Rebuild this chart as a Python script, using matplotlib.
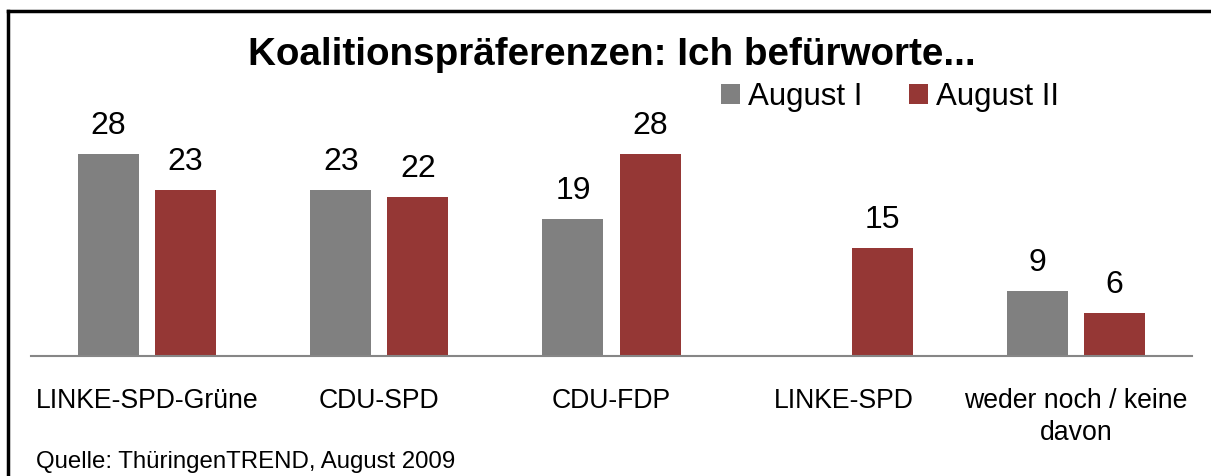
import matplotlib.pyplot as plt
import numpy as np
from matplotlib.lines import Line2D

plt.rcParams['font.family'] = ['Liberation Sans', 'DejaVu Sans']

# data
categories = ['LINKE-SPD-Grüne', 'CDU-SPD', 'CDU-FDP', 'LINKE-SPD', 'weder noch / keine\ndavon']
august_1 = [28, 23, 19, 0, 9]
august_2 = [23, 22, 28, 15, 6]
labels_1 = ['28', '23', '19', '', '9']
labels_2 = ['23', '22', '28', '15', '6']
series = ['August I', 'August II']
colors = ['#808080', '#953735']

W, H = 1211, 476
fig = plt.figure(figsize=(W / 100, H / 100), dpi=100)

# frame round the chart (cut off at right and bottom)
top = 1 - 11 / H
fig.lines.append(Line2D([8 / W, 1.05], [top, top], transform=fig.transFigure,
                        color='black', linewidth=2.5))
fig.lines.append(Line2D([8 / W, 8 / W], [-0.05, top], transform=fig.transFigure,
                        color='black', linewidth=2.5))

ax = fig.add_axes([31 / W, 120 / H, 1161 / W, 256 / H])
x = np.arange(len(categories))
bw = 0.263
off = 0.166
b1 = ax.bar(x - off, august_1, bw, color=colors[0], label=series[0])
b2 = ax.bar(x + off, august_2, bw, color=colors[1], label=series[1])

for bars, labs in ((b1, labels_1), (b2, labels_2)):
    for bar, lab in zip(bars, labs):
        if lab:
            ax.text(bar.get_x() + bar.get_width() / 2, bar.get_height() + 1.8, lab,
                    ha='center', va='bottom', fontsize=23)

ax.set_xlim(-0.5, len(categories) - 0.5)
ax.set_ylim(0, 35.5)
ax.set_yticks([])
for s in ['top', 'right', 'left']:
    ax.spines[s].set_visible(False)
ax.spines['bottom'].set_color('#868686')
ax.spines['bottom'].set_linewidth(1.5)
ax.set_xticks(x)
ax.set_xticklabels(categories, fontsize=19.2, linespacing=1.3)
ax.tick_params(axis='x', length=0, pad=23)

fig.text(612 / W, 1 - 55 / H, 'Koalitionspräferenzen: Ich befürworte...', ha='center', va='center',
         fontsize=27.8, fontweight='bold')

ax.legend(loc='center', bbox_to_anchor=(890 / W, 1 - 97 / H), bbox_transform=fig.transFigure,
          ncol=2, frameon=False, fontsize=22.5, handlelength=0.6, handleheight=0.6,
          handletextpad=0.25, columnspacing=1.5, borderpad=0)

fig.text(36 / W, 1 - 462 / H, 'Quelle: ThüringenTREND, August 2009', ha='left', va='center',
         fontsize=17.3)

fig.savefig('out.png', dpi=100)
